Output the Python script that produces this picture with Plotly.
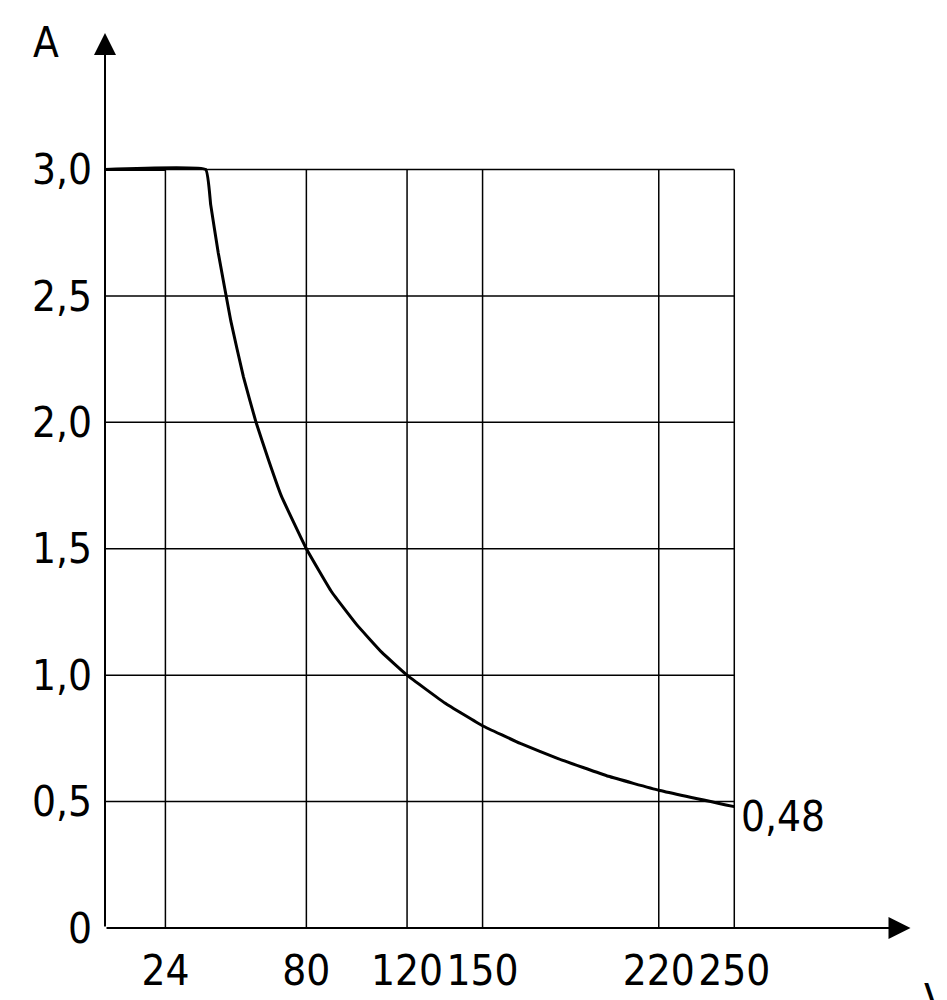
import plotly.graph_objects as go

# derating curve
volts = [0, 40, 42, 45, 50, 55, 60, 65, 70, 80, 90, 100, 110, 120, 135, 150, 165, 180, 200, 220, 250]
amps = [3.0, 3.0, 2.86, 2.67, 2.4, 2.18, 2.0, 1.85, 1.71, 1.5, 1.33, 1.2, 1.09, 1.0, 0.89, 0.8, 0.73,
        0.67, 0.6, 0.545, 0.48]

x_ticks = [24, 80, 120, 150, 220, 250]
y_ticks = [0, 0.5, 1.0, 1.5, 2.0, 2.5, 3.0]
y_labels = ["0", "0,5", "1,0", "1,5", "2,0", "2,5", "3,0"]

FONT = "DejaVu Sans Condensed, Liberation Sans Narrow, sans-serif"
X_MAX, Y_MAX = 250, 3.0

fig = go.Figure()
fig.add_trace(go.Scatter(x=volts, y=amps, mode="lines", line=dict(color="black", width=3, shape="spline", smoothing=0.3),
                         hoverinfo="skip", cliponaxis=False))

shapes = []
for xv in x_ticks:
    shapes.append(dict(type="line", x0=xv, x1=xv, y0=0, y1=Y_MAX, line=dict(color="black", width=1.5)))
for yv in y_ticks[1:]:
    shapes.append(dict(type="line", x0=0, x1=X_MAX, y0=yv, y1=yv, line=dict(color="black", width=1.5)))
shapes.append(dict(type="line", x0=0, x1=24, y0=3.0, y1=3.0, line=dict(color="black", width=3)))

arrow = dict(showarrow=True, arrowhead=2, arrowsize=2.2, arrowwidth=2, arrowcolor="black",
             axref="x", ayref="y", text="")

fig.update_layout(
    width=947, height=1000, plot_bgcolor="white", paper_bgcolor="white",
    margin=dict(l=97, r=42, t=30, b=80, autoexpand=False), showlegend=False, shapes=shapes,
    font=dict(family=FONT, size=42, color="black"),
    xaxis=dict(range=[0, 321], tickvals=x_ticks, ticktext=[str(v) for v in x_ticks], tickangle=0,
               automargin=False, showgrid=False, zeroline=False, showline=False, ticks="",
               ticklabelstandoff=14),
    yaxis=dict(range=[0, 3.52], tickvals=y_ticks, ticktext=y_labels, automargin=False,
               showgrid=False, zeroline=False, showline=False, ticks="", ticklabelstandoff=12),
    annotations=[
        dict(arrow, x=320, y=0, ax=0, ay=0),
        dict(arrow, x=0, y=3.54, ax=0, ay=0),
        dict(text="A", xref="x domain", yref="y domain", x=-0.073, y=0.995, showarrow=False,
             xanchor="center", yanchor="middle"),
        dict(text="V", xref="x domain", yref="y domain", x=1.03, y=-0.05, showarrow=False,
             xanchor="center", yanchor="top"),
        dict(text="0,48", x=252, y=0.44, showarrow=False, xanchor="left", yanchor="middle"),
    ],
)

fig.write_html("out.html")
